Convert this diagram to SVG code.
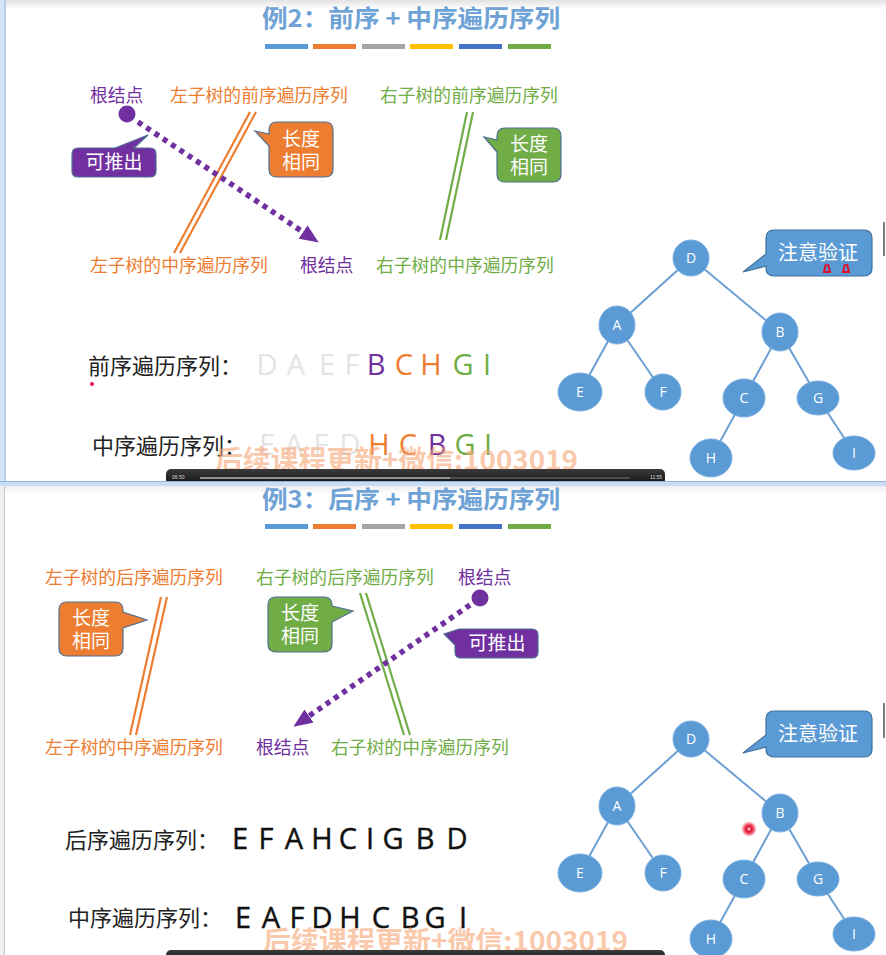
<svg xmlns="http://www.w3.org/2000/svg" width="886" height="955" viewBox="0 0 886 955">
<style>
.cjk{font-family:"Noto Sans CJK SC","Noto Sans",sans-serif}
.lbl{font-size:17.8px}
.title{font-size:24px;font-weight:bold;fill:#6fa3d6}
.seqlbl{font-size:22px;fill:#222}
.seq{font-family:"Open Sans","Liberation Sans",sans-serif;font-size:29px}
.pur{fill:#7030a0}.org{fill:#ed7d31}.grn{fill:#70ad47}.fad{fill:#e4e4e4}.blk{fill:#111}
.co{font-size:19px;fill:#fff}
.dbl-o{stroke:#ed7d31;stroke-width:2.2;fill:none}
.dbl-g{stroke:#70ad47;stroke-width:2.2;fill:none}
.dot{stroke:#7030a0;stroke-width:5.5;stroke-dasharray:5 5;fill:none}
.edge{stroke:#6a9fd4;stroke-width:2;fill:none}
.node ellipse{fill:#5b9bd5;stroke:#7aaee0;stroke-width:1}
.node text{font-family:"Open Sans","Liberation Sans",sans-serif;font-size:14px;fill:#fff;text-anchor:middle}
.wm{font-family:"Noto Sans CJK SC",sans-serif;font-size:27px;font-weight:bold;fill:#f7a676;opacity:0.6}
</style>
<defs>
<marker id="arr" markerUnits="userSpaceOnUse" markerWidth="20" markerHeight="16" refX="0" refY="8" orient="auto">
<path d="M0,0 L19,8 L0,16 Z" fill="#7030a0"/>
</marker>
<linearGradient id="topg" x1="0" y1="0" x2="0" y2="1"><stop offset="0" stop-color="#e2e2e2"/><stop offset="1" stop-color="#ffffff"/></linearGradient>
<linearGradient id="barg" x1="0" y1="0" x2="0" y2="1"><stop offset="0" stop-color="#3a3a3a"/><stop offset="1" stop-color="#111"/></linearGradient>
<radialGradient id="laser"><stop offset="0" stop-color="#fff"/><stop offset="0.3" stop-color="#e0102a"/><stop offset="0.6" stop-color="#e0102a" stop-opacity="0.7"/><stop offset="1" stop-color="#ff4060" stop-opacity="0"/></radialGradient>
</defs>
<rect width="886" height="955" fill="#fff"/>
<rect x="0" y="0" width="886" height="9" fill="url(#topg)"/>
<!-- left borders -->
<rect x="0" y="0" width="5" height="482" fill="#d6e6f8"/>
<line x1="5" y1="0" x2="5" y2="482" stroke="#a3c6ee" stroke-width="1.5"/>
<rect x="0" y="486" width="4" height="469" fill="#eeeeee"/>
<line x1="4.5" y1="486" x2="4.5" y2="955" stroke="#c8c8c8" stroke-width="1"/>
<!-- right edge marks -->
<line x1="884" y1="222" x2="884" y2="256" stroke="#555" stroke-width="1.5"/>
<line x1="884" y1="703" x2="884" y2="738" stroke="#555" stroke-width="1.5"/>

<!-- ========== Slide 1 ========== -->
<g id="title1">
<text class="cjk title" x="262" y="27" textLength="298" lengthAdjust="spacingAndGlyphs">例2：前序 + 中序遍历序列</text>
<rect x="265" y="44" width="43" height="5" fill="#5b9bd5"/>
<rect x="313" y="44" width="43" height="5" fill="#ed7d31"/>
<rect x="362" y="44" width="43" height="5" fill="#a5a5a5"/>
<rect x="410" y="44" width="43" height="5" fill="#ffc000"/>
<rect x="459" y="44" width="43" height="5" fill="#4472c4"/>
<rect x="508" y="44" width="43" height="5" fill="#70ad47"/>
</g>
<g id="labels1" class="cjk lbl">
<text class="pur" x="90" y="102">根结点</text>
<text class="org" x="170" y="102">左子树的前序遍历序列</text>
<text class="grn" x="380" y="102">右子树的前序遍历序列</text>
<text class="org" x="90" y="272">左子树的中序遍历序列</text>
<text class="pur" x="300" y="272">根结点</text>
<text class="grn" x="376" y="272">右子树的中序遍历序列</text>
</g>
<g id="connectors1">
<line class="dbl-o" x1="250" y1="112" x2="174" y2="253"/>
<line class="dbl-o" x1="256" y1="112" x2="180" y2="253"/>
<line class="dbl-g" x1="467" y1="112" x2="440" y2="240"/>
<line class="dbl-g" x1="473" y1="112" x2="446" y2="240"/>
<line class="dot" x1="138" y1="122" x2="303" y2="232" marker-end="url(#arr)"/>
</g>
<g id="rootdot1"><circle cx="127" cy="114" r="8.5" fill="#7030a0"/></g>
<g id="callout-tuichu1">
<path d="M78,148 H115 L148,135 L134,148 H150 Q156,148 156,154 V171 Q156,177 150,177 H78 Q72,177 72,171 V154 Q72,148 78,148 Z" fill="#7030a0" stroke="#4f6f93" stroke-width="1.2"/>
<text class="cjk co" x="114" y="169" text-anchor="middle">可推出</text>
</g>
<g id="callout-len1o">
<path d="M277,122 H325 Q333,122 333,130 V169 Q333,177 325,177 H277 Q269,177 269,169 V146 L255,131 L269,134 V130 Q269,122 277,122 Z" fill="#ed7d31" stroke="#4f6f93" stroke-width="1.2"/>
<text class="cjk co" x="301" y="146" text-anchor="middle">长度</text>
<text class="cjk co" x="301" y="169" text-anchor="middle">相同</text>
</g>
<g id="callout-len1g">
<path d="M505,128 H553 Q561,128 561,136 V174 Q561,182 553,182 H505 Q497,182 497,174 V152 L484,137 L497,140 V136 Q497,128 505,128 Z" fill="#70ad47" stroke="#4f6f93" stroke-width="1.2"/>
<text class="cjk co" x="529" y="151" text-anchor="middle">长度</text>
<text class="cjk co" x="529" y="174" text-anchor="middle">相同</text>
</g>
<g id="seq1">
<text class="cjk seqlbl" x="88" y="374">前序遍历序列：</text>
<text class="seq" y="375" text-anchor="middle"><tspan class="fad" x="267">D</tspan><tspan class="fad" x="296">A</tspan><tspan class="fad" x="327">E</tspan><tspan class="fad" x="352">F</tspan><tspan class="pur" x="376">B</tspan><tspan class="org" x="404">C</tspan><tspan class="org" x="431">H</tspan><tspan class="grn" x="463">G</tspan><tspan class="grn" x="487">I</tspan></text>
<circle cx="92" cy="384" r="2" fill="#e0105a"/>
<text class="cjk seqlbl" x="92" y="454">中序遍历序列：</text>
<text class="seq" y="455" text-anchor="middle"><tspan class="fad" x="267">E</tspan><tspan class="fad" x="294">A</tspan><tspan class="fad" x="321">F</tspan><tspan class="fad" x="350">D</tspan><tspan class="org" x="379">H</tspan><tspan class="org" x="408">C</tspan><tspan class="pur" x="437">B</tspan><tspan class="grn" x="465">G</tspan><tspan class="grn" x="488">I</tspan></text>
</g>
<g id="tree1-edges">
<line class="edge" x1="691" y1="258" x2="617" y2="325"/>
<line class="edge" x1="691" y1="258" x2="780" y2="332"/>
<line class="edge" x1="617" y1="325" x2="580" y2="392"/>
<line class="edge" x1="617" y1="325" x2="663" y2="392"/>
<line class="edge" x1="780" y1="332" x2="744" y2="398"/>
<line class="edge" x1="780" y1="332" x2="818" y2="398"/>
<line class="edge" x1="744" y1="398" x2="711" y2="458"/>
<line class="edge" x1="818" y1="398" x2="854" y2="453"/>
</g>
<g id="t1-D" class="node"><ellipse cx="691" cy="258" rx="18" ry="18"/><text x="691" y="263">D</text></g>
<g id="t1-A" class="node"><ellipse cx="617" cy="325" rx="18" ry="19"/><text x="617" y="330">A</text></g>
<g id="t1-B" class="node"><ellipse cx="780" cy="332" rx="18" ry="19"/><text x="780" y="337">B</text></g>
<g id="t1-E" class="node"><ellipse cx="580" cy="392" rx="22" ry="19"/><text x="580" y="397">E</text></g>
<g id="t1-F" class="node"><ellipse cx="663" cy="392" rx="18" ry="18"/><text x="663" y="397">F</text></g>
<g id="t1-C" class="node"><ellipse cx="744" cy="398" rx="21" ry="19"/><text x="744" y="403">C</text></g>
<g id="t1-G" class="node"><ellipse cx="818" cy="398" rx="21" ry="17"/><text x="818" y="403">G</text></g>
<g id="t1-H" class="node"><ellipse cx="711" cy="458" rx="21" ry="19"/><text x="711" y="463">H</text></g>
<g id="t1-I" class="node"><ellipse cx="854" cy="453" rx="21" ry="17"/><text x="854" y="458">I</text></g>
<g id="callout-verify1">
<path d="M774,230 H864 Q872,230 872,238 V268 Q872,276 864,276 H774 Q766,276 766,268 V266 L743,272 L766,254 V238 Q766,230 774,230 Z" fill="#5b9bd5" stroke="#41719c" stroke-width="1.2"/>
<text class="cjk" x="818" y="260" font-size="20" fill="#fff" text-anchor="middle">注意验证</text>
<path d="M826,264 l-2,8 h6 l-2,-8 M845,264 l-2,8 h6 l-2,-8" stroke="#e0102a" stroke-width="2" fill="none"/>
</g>
<g id="watermark1"><text class="wm" x="215" y="470" textLength="363" lengthAdjust="spacingAndGlyphs">后续课程更新+微信:1003019</text></g>
<g id="player1">
<rect x="166" y="469" width="499" height="16" rx="5" fill="url(#barg)"/>
<text x="172" y="479" font-family="Liberation Sans,sans-serif" font-size="5" fill="#ddd">06:50</text>
<line x1="200" y1="478" x2="450" y2="478" stroke="#fff" stroke-width="1.2"/>
<line x1="450" y1="478" x2="630" y2="478" stroke="#777" stroke-width="1.2"/>
<text x="650" y="479" font-family="Liberation Sans,sans-serif" font-size="5" fill="#ddd">11:55</text>
</g>
<rect x="0" y="481" width="886" height="5" fill="#c9dcf2"/>
<line x1="0" y1="481.5" x2="886" y2="481.5" stroke="#8fb6e3" stroke-width="1"/>
<rect x="5" y="486" width="881" height="8" fill="url(#topg)" opacity="0.6"/>

<!-- ========== Slide 2 ========== -->
<g id="title2">
<text class="cjk title" x="262" y="508" textLength="298" lengthAdjust="spacingAndGlyphs">例3：后序 + 中序遍历序列</text>
<rect x="265" y="524" width="43" height="5" fill="#5b9bd5"/>
<rect x="313" y="524" width="43" height="5" fill="#ed7d31"/>
<rect x="362" y="524" width="43" height="5" fill="#a5a5a5"/>
<rect x="410" y="524" width="43" height="5" fill="#ffc000"/>
<rect x="459" y="524" width="43" height="5" fill="#4472c4"/>
<rect x="508" y="524" width="43" height="5" fill="#70ad47"/>
</g>
<g id="labels2" class="cjk lbl">
<text class="org" x="45" y="584">左子树的后序遍历序列</text>
<text class="grn" x="256" y="584">右子树的后序遍历序列</text>
<text class="pur" x="458" y="584">根结点</text>
<text class="org" x="45" y="754">左子树的中序遍历序列</text>
<text class="pur" x="256" y="754">根结点</text>
<text class="grn" x="331" y="754">右子树的中序遍历序列</text>
</g>
<g id="connectors2">
<line class="dbl-o" x1="161" y1="597" x2="130" y2="735"/>
<line class="dbl-o" x1="167" y1="597" x2="136" y2="735"/>
<line class="dbl-g" x1="360" y1="593" x2="404" y2="735"/>
<line class="dbl-g" x1="366" y1="593" x2="410" y2="735"/>
<line class="dot" x1="470" y1="605" x2="309" y2="716" marker-end="url(#arr)"/>
</g>
<g id="rootdot2"><circle cx="480" cy="598" r="8.5" fill="#7030a0"/></g>
<g id="callout-len2o">
<path d="M67,602 H115 Q123,602 123,610 V612 L147,620 L123,628 V648 Q123,656 115,656 H67 Q59,656 59,648 V610 Q59,602 67,602 Z" fill="#ed7d31" stroke="#4f6f93" stroke-width="1.2"/>
<text class="cjk co" x="91" y="625" text-anchor="middle">长度</text>
<text class="cjk co" x="91" y="648" text-anchor="middle">相同</text>
</g>
<g id="callout-len2g">
<path d="M276,597 H324 Q332,597 332,605 V606 L353,611 L332,622 V644 Q332,652 324,652 H276 Q268,652 268,644 V605 Q268,597 276,597 Z" fill="#70ad47" stroke="#4f6f93" stroke-width="1.2"/>
<text class="cjk co" x="300" y="620" text-anchor="middle">长度</text>
<text class="cjk co" x="300" y="643" text-anchor="middle">相同</text>
</g>
<g id="callout-tuichu2">
<path d="M461,629 H532 Q538,629 538,635 V652 Q538,658 532,658 H461 Q455,658 455,652 V645 L444,634 L459,629 Z" fill="#7030a0" stroke="#4f6f93" stroke-width="1.2"/>
<text class="cjk co" x="497" y="650" text-anchor="middle">可推出</text>
</g>
<g id="seq2">
<text class="cjk seqlbl" x="65" y="848">后序遍历序列：</text>
<text class="seq blk" y="849" text-anchor="middle" stroke="#111" stroke-width="0.4"><tspan x="240">E</tspan><tspan x="266">F</tspan><tspan x="294">A</tspan><tspan x="322">H</tspan><tspan x="348">C</tspan><tspan x="370">I</tspan><tspan x="393">G</tspan><tspan x="425">B</tspan><tspan x="457">D</tspan></text>
<text class="cjk seqlbl" x="68" y="926">中序遍历序列：</text>
<text class="seq blk" y="928" text-anchor="middle" stroke="#111" stroke-width="0.4"><tspan x="243">E</tspan><tspan x="271">A</tspan><tspan x="297">F</tspan><tspan x="322">D</tspan><tspan x="350">H</tspan><tspan x="381">C</tspan><tspan x="410">B</tspan><tspan x="435">G</tspan><tspan x="463">I</tspan></text>
</g>
<g id="tree2-edges">
<line class="edge" x1="691" y1="739" x2="617" y2="806"/>
<line class="edge" x1="691" y1="739" x2="780" y2="813"/>
<line class="edge" x1="617" y1="806" x2="580" y2="873"/>
<line class="edge" x1="617" y1="806" x2="663" y2="873"/>
<line class="edge" x1="780" y1="813" x2="744" y2="879"/>
<line class="edge" x1="780" y1="813" x2="818" y2="879"/>
<line class="edge" x1="744" y1="879" x2="711" y2="939"/>
<line class="edge" x1="818" y1="879" x2="854" y2="934"/>
</g>
<g id="t2-D" class="node"><ellipse cx="691" cy="739" rx="18" ry="18"/><text x="691" y="744">D</text></g>
<g id="t2-A" class="node"><ellipse cx="617" cy="806" rx="18" ry="19"/><text x="617" y="811">A</text></g>
<g id="t2-B" class="node"><ellipse cx="780" cy="813" rx="18" ry="19"/><text x="780" y="818">B</text></g>
<g id="t2-E" class="node"><ellipse cx="580" cy="873" rx="22" ry="19"/><text x="580" y="878">E</text></g>
<g id="t2-F" class="node"><ellipse cx="663" cy="873" rx="18" ry="18"/><text x="663" y="878">F</text></g>
<g id="t2-C" class="node"><ellipse cx="744" cy="879" rx="21" ry="19"/><text x="744" y="884">C</text></g>
<g id="t2-G" class="node"><ellipse cx="818" cy="879" rx="21" ry="17"/><text x="818" y="884">G</text></g>
<g id="t2-H" class="node"><ellipse cx="711" cy="939" rx="21" ry="19"/><text x="711" y="944">H</text></g>
<g id="t2-I" class="node"><ellipse cx="854" cy="934" rx="21" ry="17"/><text x="854" y="939">I</text></g>
<g id="callout-verify2">
<path d="M774,711 H864 Q872,711 872,719 V749 Q872,757 864,757 H774 Q766,757 766,749 V747 L743,753 L766,735 V719 Q766,711 774,711 Z" fill="#5b9bd5" stroke="#41719c" stroke-width="1.2"/>
<text class="cjk" x="818" y="741" font-size="20" fill="#fff" text-anchor="middle">注意验证</text>
</g>
<circle cx="749" cy="829" r="8" fill="url(#laser)"/>
<g id="watermark2"><text class="wm" x="263" y="951" textLength="365" lengthAdjust="spacingAndGlyphs">后续课程更新+微信:1003019</text></g>
<g id="player2"><rect x="166" y="950" width="499" height="14" rx="5" fill="url(#barg)"/></g>
</svg>
